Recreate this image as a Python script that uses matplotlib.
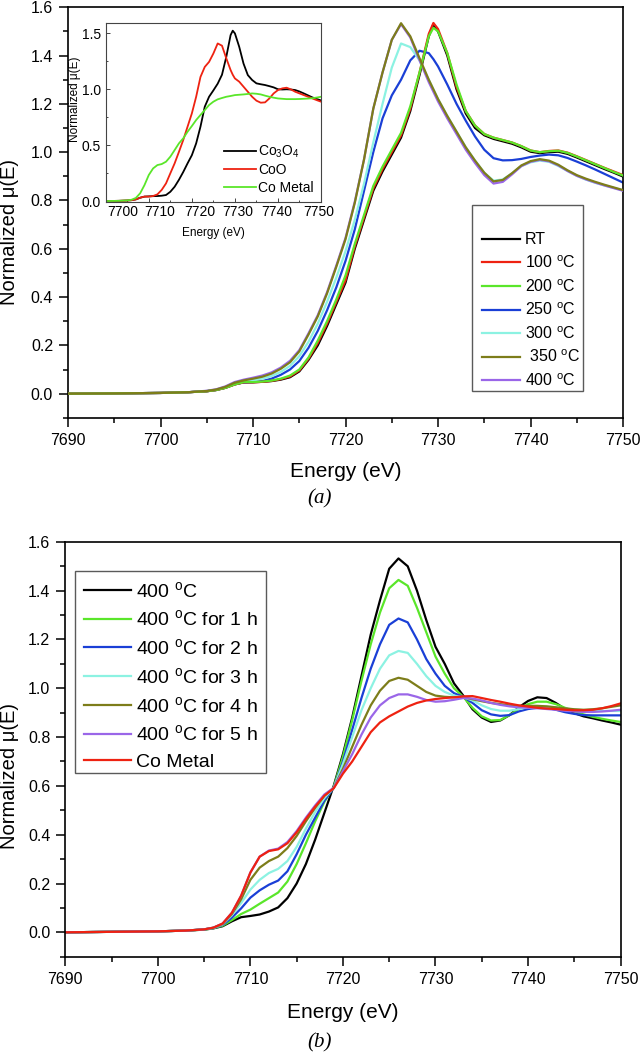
import matplotlib
matplotlib.use("Agg")
import matplotlib.pyplot as plt
import matplotlib.transforms as mtransforms
from matplotlib.patches import Rectangle
from matplotlib.ticker import MultipleLocator, FormatStrFormatter

plt.rcParams['font.family'] = ['Liberation Sans', 'DejaVu Sans']
plt.rcParams['mathtext.fontset'] = 'custom'
plt.rcParams['mathtext.rm'] = 'Liberation Sans'
plt.rcParams['mathtext.it'] = 'Liberation Sans:italic'
plt.rcParams['mathtext.bf'] = 'Liberation Sans:bold'

# ---------------- dados do painel (a) ----------------
energy_a = [7690, 7695, 7700, 7703] + list(range(7705, 7730)) + [7729.5] + list(range(7730, 7751))

mu_rt = [0.0, 0.001, 0.003, 0.006, 0.010, 0.015, 0.024, 0.038,
         0.047, 0.047, 0.049, 0.052, 0.058, 0.068, 0.092, 0.14, 0.20, 0.28, 0.37, 0.46,
         0.60, 0.72, 0.84, 0.92, 0.99, 1.06, 1.17, 1.32, 1.48,
         1.53,
         1.50, 1.40, 1.26, 1.16, 1.10, 1.07, 1.055, 1.045, 1.035, 1.02, 1.002,
         0.996, 1.0, 1.002, 0.993, 0.978, 0.962, 0.946, 0.93, 0.915, 0.899]
mu_100 = [0.0, 0.001, 0.003, 0.006, 0.010, 0.015, 0.024, 0.038,
          0.047, 0.047, 0.049, 0.053, 0.06, 0.071, 0.096, 0.145, 0.21, 0.29, 0.38, 0.47,
          0.61, 0.73, 0.85, 0.93, 1.0, 1.07, 1.18, 1.33, 1.49,
          1.535,
          1.51, 1.41, 1.27, 1.17, 1.11, 1.075, 1.06, 1.05, 1.04, 1.025, 1.007,
          1.0, 1.005, 1.007, 0.998, 0.983, 0.967, 0.951, 0.935, 0.92, 0.905]
mu_200 = [0.0, 0.001, 0.003, 0.006, 0.010, 0.015, 0.024, 0.038,
          0.048, 0.048, 0.05, 0.054, 0.062, 0.075, 0.10, 0.15, 0.22, 0.30, 0.39, 0.49,
          0.62, 0.74, 0.86, 0.94, 1.01, 1.08, 1.19, 1.33, 1.48,
          1.515,
          1.50, 1.41, 1.28, 1.17, 1.11, 1.075, 1.06, 1.05, 1.04, 1.025, 1.007,
          1.0, 1.004, 1.006, 0.997, 0.982, 0.966, 0.95, 0.934, 0.918, 0.903]
mu_250 = [0.0, 0.001, 0.003, 0.006, 0.010, 0.015, 0.025, 0.04,
          0.046, 0.048, 0.052, 0.062, 0.078, 0.10, 0.135, 0.19, 0.26, 0.345, 0.44, 0.55,
          0.68, 0.84, 1.0, 1.14, 1.235, 1.30, 1.38, 1.42, 1.41,
          1.385,
          1.355, 1.28, 1.20, 1.13, 1.065, 1.01, 0.975, 0.966, 0.967, 0.972, 0.98,
          0.986, 0.99, 0.987, 0.976, 0.961, 0.945, 0.928, 0.91, 0.892, 0.874]
mu_300 = [0.0, 0.001, 0.003, 0.006, 0.011, 0.016, 0.027, 0.043,
          0.052, 0.056, 0.062, 0.073, 0.09, 0.115, 0.155, 0.215, 0.29, 0.38, 0.48, 0.59,
          0.72, 0.87, 1.04, 1.20, 1.35, 1.45, 1.435, 1.38, 1.30,
          1.26,
          1.22, 1.15, 1.085, 1.02, 0.965, 0.915, 0.882, 0.887, 0.912, 0.942, 0.958,
          0.965, 0.96, 0.943, 0.922, 0.902, 0.886, 0.873, 0.862, 0.852, 0.842]
mu_350 = [0.0, 0.001, 0.003, 0.006, 0.011, 0.017, 0.028, 0.045,
          0.055, 0.062, 0.07, 0.083, 0.103, 0.13, 0.175, 0.245, 0.32, 0.415, 0.525, 0.64,
          0.79, 0.97, 1.18, 1.33, 1.465, 1.534, 1.48, 1.389, 1.30,
          1.26,
          1.22, 1.15, 1.085, 1.02, 0.965, 0.915, 0.879, 0.885, 0.913, 0.945, 0.963,
          0.971, 0.965, 0.948, 0.925, 0.905, 0.89, 0.877, 0.865, 0.854, 0.843]
mu_400 = [0.0, 0.001, 0.003, 0.006, 0.012, 0.018, 0.03, 0.048,
          0.058, 0.066, 0.075, 0.088, 0.108, 0.136, 0.18, 0.25, 0.325, 0.42, 0.53, 0.645,
          0.795, 0.97, 1.18, 1.33, 1.465, 1.53, 1.475, 1.38, 1.29,
          1.25,
          1.21, 1.14, 1.075, 1.01, 0.955, 0.905, 0.87, 0.877, 0.908, 0.942, 0.96,
          0.968, 0.962, 0.945, 0.922, 0.902, 0.887, 0.874, 0.862, 0.851, 0.84]

labels_a = ["RT", "100 $^\\mathregular{o}$C", "200 $^\\mathregular{o}$C", "250 $^\\mathregular{o}$C",
            "300 $^\\mathregular{o}$C", " 350 $^\\mathregular{o}$C", "400 $^\\mathregular{o}$C"]
series_a = [mu_rt, mu_100, mu_200, mu_250, mu_300, mu_350, mu_400]
colors_a = ['#000000', '#ee2211', '#5ae62a', '#1a3fd6', '#8cf2e2', '#7d7d1a', '#9a66e8']
zorder_a = [2, 3, 4, 2, 2, 4, 3]

# ---------------- dados do inset (referências) ----------------
energy_ins = [7700, 7703] + list(range(7705, 7730)) + [7729.5] + list(range(7730, 7751))
mu_co3o4 = [0.0, 0.002, 0.005, 0.008, 0.015, 0.03, 0.04, 0.042, 0.044, 0.045, 0.048, 0.054,
            0.083, 0.128, 0.19, 0.26, 0.337, 0.41, 0.516, 0.665, 0.844, 0.933, 0.99, 1.05,
            1.13, 1.29, 1.485,
            1.524,
            1.50, 1.38, 1.23, 1.127, 1.083, 1.053, 1.045, 1.038, 1.028, 1.017, 1.0,
            0.998, 1.0, 0.998, 0.993, 0.98, 0.963, 0.945, 0.927, 0.913, 0.9]
mu_coo = [0.0, 0.002, 0.005, 0.008, 0.015, 0.03, 0.04, 0.04, 0.045, 0.06, 0.1, 0.158,
          0.248, 0.337, 0.44, 0.546, 0.665, 0.784, 0.933, 1.11, 1.20, 1.245, 1.32, 1.41,
          1.39, 1.277, 1.172,
          1.13,
          1.097, 1.068, 1.023, 0.978, 0.933, 0.898, 0.88, 0.883, 0.918, 0.963, 0.993,
          1.008, 1.014, 0.999, 0.978, 0.963, 0.948, 0.933, 0.918, 0.903, 0.889]
mu_comet = [0.0, 0.002, 0.006, 0.012, 0.028, 0.07, 0.143, 0.233, 0.292, 0.322, 0.331, 0.352,
            0.397, 0.456, 0.516, 0.561, 0.62, 0.671, 0.725, 0.77, 0.814, 0.859, 0.889, 0.91,
            0.922, 0.933, 0.94,
            0.944,
            0.948, 0.951, 0.954, 0.958, 0.963, 0.96, 0.954, 0.943, 0.933, 0.925, 0.918,
            0.915, 0.912, 0.912, 0.912, 0.913, 0.915, 0.917, 0.92, 0.926, 0.933]
labels_ins = ["Co$_\\mathregular{3}$O$_\\mathregular{4}$", "CoO", "Co Metal"]
series_ins = [mu_co3o4, mu_coo, mu_comet]
colors_ins = ['#000000', '#ee2211', '#5ae62a']

# ---------------- dados do painel (b) ----------------
energy_b = [7690, 7695, 7700, 7703] + list(range(7705, 7751))

mu_b400 = [0.0, 0.002, 0.004, 0.007, 0.011, 0.016,
           0.025, 0.045, 0.062, 0.067, 0.073, 0.085, 0.102, 0.14, 0.2, 0.28, 0.38, 0.49, 0.60,
           0.73, 0.88, 1.05, 1.22, 1.36, 1.49, 1.532, 1.50, 1.40, 1.28, 1.17, 1.10, 1.02,
           0.97, 0.914, 0.88, 0.862, 0.868, 0.89, 0.922, 0.948, 0.963, 0.96, 0.94, 0.915,
           0.898, 0.885, 0.877, 0.868, 0.86, 0.851]
mu_b1h = [0.0, 0.002, 0.004, 0.007, 0.011, 0.017,
          0.027, 0.05, 0.075, 0.093, 0.117, 0.14, 0.163, 0.208, 0.28, 0.365, 0.455, 0.535, 0.595,
          0.72, 0.87, 1.03, 1.18, 1.31, 1.41, 1.444, 1.42, 1.33, 1.23, 1.13, 1.06, 1.0,
          0.965, 0.92, 0.885, 0.868, 0.87, 0.89, 0.915, 0.935, 0.945, 0.945, 0.935, 0.92,
          0.905, 0.893, 0.883, 0.875, 0.868, 0.862]
mu_b2h = [0.0, 0.002, 0.004, 0.007, 0.012, 0.018,
          0.03, 0.06, 0.098, 0.142, 0.172, 0.195, 0.212, 0.25, 0.32, 0.40, 0.47, 0.54, 0.592,
          0.70, 0.83, 0.96, 1.08, 1.18, 1.26, 1.286, 1.27, 1.20, 1.12, 1.06, 1.01, 0.98,
          0.965, 0.94, 0.91, 0.893, 0.887, 0.89, 0.905, 0.915, 0.92, 0.92, 0.912, 0.902,
          0.895, 0.89, 0.889, 0.889, 0.889, 0.889]
mu_b3h = [0.0, 0.002, 0.004, 0.007, 0.012, 0.018,
          0.032, 0.07, 0.12, 0.175, 0.215, 0.243, 0.26, 0.292, 0.35, 0.425, 0.493, 0.55, 0.593,
          0.69, 0.80, 0.91, 1.0, 1.08, 1.135, 1.153, 1.145, 1.10, 1.05, 1.01, 0.985, 0.97,
          0.963, 0.95, 0.93, 0.915, 0.908, 0.908, 0.915, 0.922, 0.925, 0.925, 0.922, 0.917,
          0.913, 0.91, 0.908, 0.907, 0.907, 0.907]
mu_b4h = [0.0, 0.002, 0.004, 0.007, 0.012, 0.019,
          0.034, 0.075, 0.135, 0.215, 0.265, 0.292, 0.31, 0.345, 0.395, 0.455, 0.51, 0.56, 0.592,
          0.67, 0.76, 0.85, 0.93, 0.99, 1.03, 1.043, 1.035, 1.01, 0.985, 0.97, 0.965, 0.963,
          0.963, 0.955, 0.947, 0.94, 0.935, 0.93, 0.928, 0.928, 0.928, 0.926, 0.922, 0.918,
          0.914, 0.912, 0.914, 0.918, 0.924, 0.93]
mu_b5h = [0.0, 0.002, 0.004, 0.007, 0.012, 0.019,
          0.036, 0.08, 0.15, 0.245, 0.31, 0.335, 0.343, 0.37, 0.415, 0.47, 0.52, 0.565, 0.592,
          0.66, 0.73, 0.81, 0.88, 0.93, 0.96, 0.975, 0.975, 0.965, 0.952, 0.945, 0.947, 0.953,
          0.96, 0.958, 0.95, 0.94, 0.932, 0.926, 0.922, 0.92, 0.918, 0.915, 0.912, 0.908,
          0.905, 0.903, 0.903, 0.905, 0.908, 0.912]
mu_bmet = [0.0, 0.002, 0.004, 0.007, 0.012, 0.019,
           0.036, 0.08, 0.15, 0.245, 0.31, 0.333, 0.34, 0.365, 0.41, 0.465, 0.515, 0.56, 0.59,
           0.65, 0.70, 0.76, 0.82, 0.86, 0.885, 0.905, 0.925, 0.94, 0.95, 0.956, 0.96, 0.963,
           0.967, 0.968, 0.96, 0.952, 0.945, 0.937, 0.93, 0.925, 0.92, 0.917, 0.915, 0.912,
           0.91, 0.91, 0.912, 0.918, 0.927, 0.938]

labels_b = ["400 $^\\mathregular{o}$C", "400 $^\\mathregular{o}$C for 1 h", "400 $^\\mathregular{o}$C for 2 h",
            "400 $^\\mathregular{o}$C for 3 h", "400 $^\\mathregular{o}$C for 4 h",
            "400 $^\\mathregular{o}$C for 5 h", "Co Metal"]
series_b = [mu_b400, mu_b1h, mu_b2h, mu_b3h, mu_b4h, mu_b5h, mu_bmet]
colors_b = ['#000000', '#5ae62a', '#1a3fd6', '#8cf2e2', '#7d7d1a', '#9a66e8', '#ee2211']


def styleAxes(ax):
    # limites, ticks e molduras no estilo Origin
    ax.set_xlim(7690, 7750)
    ax.set_ylim(-0.1, 1.6)
    ax.xaxis.set_major_locator(MultipleLocator(10))
    ax.xaxis.set_minor_locator(MultipleLocator(5))
    ax.yaxis.set_major_locator(MultipleLocator(0.2))
    ax.yaxis.set_minor_locator(MultipleLocator(0.1))
    ax.xaxis.set_major_formatter(FormatStrFormatter('%d'))
    ax.yaxis.set_major_formatter(FormatStrFormatter('%.1f'))
    ax.tick_params(which='both', direction='out', top=False, right=False, width=1.1)
    ax.tick_params(which='major', length=6.3, pad=4.5, labelsize=11.5)
    ax.tick_params(which='minor', length=3.6)
    for s in ax.spines.values():
        s.set_linewidth(1.2)


def boxLegend(ax, lines, labels, box, anchor, fs, spacing):
    # moldura desenhada à parte (o Origin deixa um espaço extra no topo)
    ax.add_patch(Rectangle((box[0], box[1]), box[2] - box[0], box[3] - box[1],
                           transform=ax.transAxes, facecolor='white',
                           edgecolor='#5a5a5a', lw=1.0, zorder=5))
    leg = ax.legend(lines, labels, loc='center left', bbox_to_anchor=anchor,
                    frameon=False, borderpad=0, borderaxespad=0, handlelength=2.4,
                    handletextpad=0.3, labelspacing=spacing, fontsize=fs)
    leg.set_zorder(6)


fig = plt.figure(figsize=(6.4, 10.54), dpi=100)

# ---------- painel (a) ----------
axA = fig.add_axes([0.1063, 0.6036, 0.8672, 0.3895])
linesA = []
for y, c, lab, z in zip(series_a, colors_a, labels_a, zorder_a):
    ln, = axA.plot(energy_a, y, color=c, lw=1.6, label=lab, zorder=z)
    linesA.append(ln)
styleAxes(axA)
axA.set_xlabel("Energy (eV)", fontsize=15)
axA.set_ylabel("Normalized \u03bc(E)", fontsize=14.5)
axA.xaxis.set_label_coords(0.5, -0.107)
axA.yaxis.set_label_coords(-0.088, 0.4526)
boxLegend(axA, linesA, labels_a, (0.727, 0.0643, 0.927, 0.519), (0.746, 0.261), 11.5, 0.44)

# ---------- inset ----------
axI = fig.add_axes([0.1652, 0.8086, 0.3364, 0.1698])
for y, c, lab in zip(series_ins, colors_ins, labels_ins):
    axI.plot(energy_ins, y, color=c, lw=1.3, label=lab)
axI.set_xlim(7700, 7750)
axI.set_ylim(-0.006, 1.595)
axI.xaxis.set_major_locator(MultipleLocator(10))
axI.xaxis.set_minor_locator(MultipleLocator(5))
axI.yaxis.set_major_locator(MultipleLocator(0.5))
axI.yaxis.set_minor_locator(MultipleLocator(0.25))
axI.xaxis.set_major_formatter(FormatStrFormatter('%d'))
axI.yaxis.set_major_formatter(FormatStrFormatter('%.1f'))
axI.tick_params(which='both', direction='in', top=False, right=False, width=0.7, color='#444444')
axI.tick_params(which='major', length=3, labelsize=10)
axI.tick_params(axis='x', which='major', pad=2)
axI.tick_params(axis='y', which='major', pad=3.5)
axI.tick_params(which='minor', length=1.6)
for s in axI.spines.values():
    s.set_linewidth(0.8)
    s.set_color('#444444')
axI.set_xlabel("Energy (eV)", fontsize=8.5)
axI.set_ylabel("Normalized \u03bc(E)", fontsize=8.5)
axI.xaxis.set_label_coords(0.5, -0.14)
axI.yaxis.set_label_coords(-0.116, 0.574)
axI.legend(loc='lower right', frameon=False, fontsize=10, handlelength=2.3,
           handletextpad=0.2, labelspacing=0.25, borderpad=0.2, borderaxespad=0.3)

fig.text(0.4994, 1 - 499 / 1054, "(a)", ha='center', va='center', fontsize=15,
         family='Liberation Serif', style='italic')

# ---------- painel (b) ----------
axB = fig.add_axes([0.102, 0.0923, 0.8677, 0.3936])
linesB = []
for y, c, lab in zip(series_b, colors_b, labels_b):
    ln, = axB.plot(energy_b, y, color=c, lw=1.6, label=lab)
    linesB.append(ln)
styleAxes(axB)
axB.set_xlabel("Energy (eV)", fontsize=15)
axB.set_ylabel("Normalized \u03bc(E)", fontsize=14.5)
axB.xaxis.set_label_coords(0.5, -0.112)
axB.yaxis.set_label_coords(-0.083, 0.435)
boxLegend(axB, linesB, labels_b, (0.0174, 0.4436, 0.362, 0.9306), (0.0336, 0.6774), 14, 0.45)

fig.text(0.4994, 1 - 1042.8 / 1054, "(b)", ha='center', va='center', fontsize=15,
         family='Liberation Serif', style='italic')

# no original os rótulos do inset ficam um pouco deslocados dos ticks (px)
fig.canvas.draw()
shift_px = {'7700': 17, '7710': 11, '7720': 8, '7730': 3, '7740': -1, '7750': -2}
for lab in axI.get_xticklabels():
    dx = shift_px.get(lab.get_text(), 0)
    lab.set_transform(lab.get_transform() +
                      mtransforms.ScaledTranslation(dx / 100.0, 0, fig.dpi_scale_trans))

fig.savefig("out.png", dpi=100)
